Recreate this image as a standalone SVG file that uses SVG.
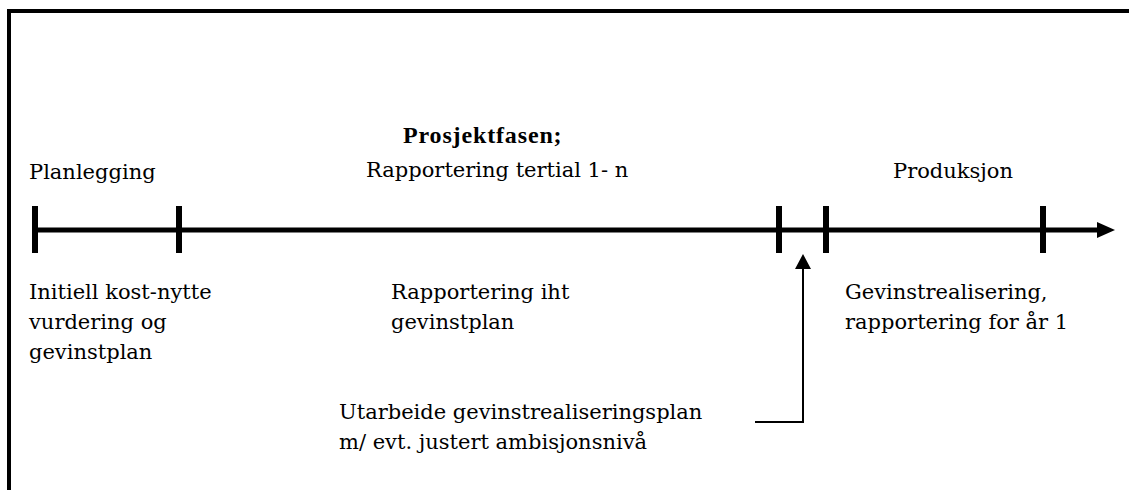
<svg xmlns="http://www.w3.org/2000/svg" width="1129" height="490" viewBox="0 0 1129 490">
  <style>
    .t { font-family: "DejaVu Serif", "Liberation Serif", serif; font-size: 21px; fill: #000; }
    .b { font-family: "Liberation Serif", "Times New Roman", serif; font-size: 24px; font-weight: bold; letter-spacing: 0.85px; }
    .line { stroke: #000; fill: none; }
  </style>
  <rect x="0" y="0" width="1129" height="490" fill="#fff"/>
  <g id="frame">
    <line class="line" x1="7" y1="11" x2="1129" y2="11" stroke-width="4"/>
    <line class="line" x1="9" y1="9" x2="9" y2="490" stroke-width="4"/>
  </g>
  <g id="connectors">
    <g id="timeline">
      <line class="line" x1="33" y1="230" x2="1099" y2="230" stroke-width="5"/>
      <polygon points="1097,222 1115,230 1097,238" fill="#000"/>
      <line class="line" x1="35" y1="206" x2="35" y2="253" stroke-width="6"/>
      <line class="line" x1="179" y1="206" x2="179" y2="253" stroke-width="6"/>
      <line class="line" x1="779" y1="206" x2="779" y2="253" stroke-width="6"/>
      <line class="line" x1="826" y1="206" x2="826" y2="253" stroke-width="6"/>
      <line class="line" x1="1043" y1="206" x2="1043" y2="253" stroke-width="6"/>
    </g>
    <g id="plan-arrow">
      <polyline class="line" points="755,422 803,422 803,267" stroke-width="2"/>
      <polygon points="795,269 803,254 811,269" fill="#000"/>
    </g>
  </g>
  <g id="node-planlegging">
    <text class="t" x="29" y="179">Planlegging</text>
  </g>
  <g id="node-prosjektfasen">
    <text class="b" x="403" y="143">Prosjektfasen;</text>
    <text class="t" x="366" y="177">Rapportering tertial 1- n</text>
  </g>
  <g id="node-produksjon">
    <text class="t" x="893" y="178">Produksjon</text>
  </g>
  <g id="node-initiell">
    <text class="t" x="29" y="299">Initiell kost-nytte</text>
    <text class="t" x="29" y="329">vurdering og</text>
    <text class="t" x="29" y="359">gevinstplan</text>
  </g>
  <g id="node-rapportering">
    <text class="t" x="391" y="299">Rapportering iht</text>
    <text class="t" x="391" y="329">gevinstplan</text>
  </g>
  <g id="node-gevinstrealisering">
    <text class="t" x="845" y="299">Gevinstrealisering,</text>
    <text class="t" x="845" y="329">rapportering for år 1</text>
  </g>
  <g id="node-utarbeide">
    <text class="t" x="339" y="419">Utarbeide gevinstrealiseringsplan</text>
    <text class="t" x="339" y="449">m/ evt. justert ambisjonsnivå</text>
  </g>
</svg>
